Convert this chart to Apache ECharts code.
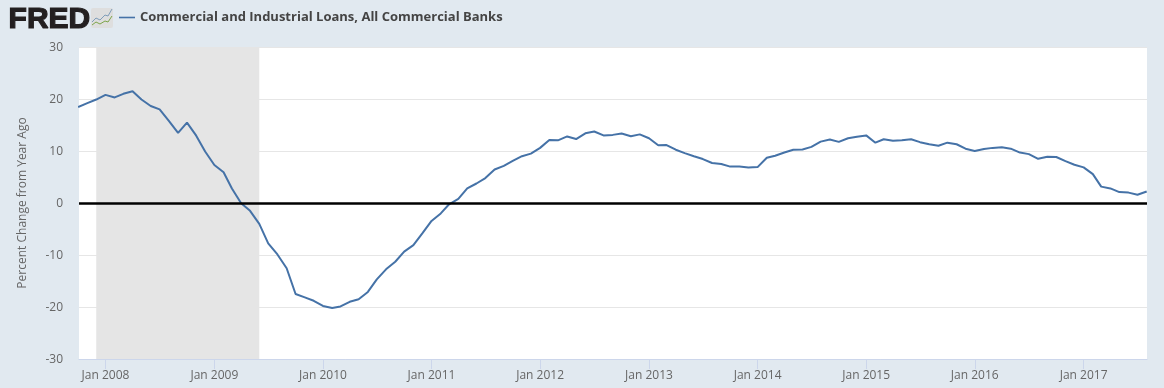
<!DOCTYPE html>
<html><head><meta charset="utf-8">
<script src="https://cdn.jsdelivr.net/npm/echarts@6/dist/echarts.min.js"></script>
<style>html,body{margin:0;padding:0;background:#e1e9f0}#c{width:1164px;height:388px}</style>
</head><body><div id="c"></div>
<script>
const seriesName = 'Commercial and Industrial Loans, All Commercial Banks';
const yAxisName = 'Percent Change from Year Ago';
const values2007 = [18.46,19.2,19.9];
const values2008 = [20.8,20.3,21.0,21.5,19.9,18.65,18.0,15.8,13.5,15.45,12.95,9.9];
const values2009 = [7.3,5.9,2.8,-0.05,-1.5,-4.0,-7.75,-9.9,-12.55,-17.5,-18.15,-18.8];
const values2010 = [-19.8,-20.2,-19.9,-19.0,-18.5,-17.1,-14.7,-12.75,-11.3,-9.35,-8.1,-5.85];
const values2011 = [-3.45,-2.0,-0.25,0.8,2.8,3.75,4.8,6.45,7.15,8.1,9.0,9.5];
const values2012 = [10.6,12.1,12.05,12.8,12.3,13.4,13.75,13.0,13.1,13.35,12.85,13.2];
const values2013 = [12.45,11.1,11.15,10.25,9.6,9.0,8.45,7.7,7.5,7.0,7.0,6.85];
const values2014 = [6.9,8.7,9.1,9.7,10.25,10.3,10.8,11.8,12.2,11.75,12.45,12.75];
const values2015 = [13.0,11.6,12.25,11.95,12.05,12.25,11.7,11.3,11.0,11.6,11.3,10.45];
const values2016 = [10.0,10.4,10.6,10.7,10.45,9.7,9.4,8.5,8.9,8.85,8.05,7.35];
const values2017 = [6.85,5.55,3.15,2.8,2.1,2.0,1.6,2.2];
const values = [].concat(values2007,values2008,values2009,values2010,values2011,values2012,values2013,values2014,values2015,values2016,values2017);
const dates = values.map((_, i) => Date.UTC(2007, 9 + i, 1));
const recession = [Date.UTC(2007, 11, 1), Date.UTC(2009, 5, 1)];
const xMin = Date.UTC(2007, 9, 4);
const xMax = Date.UTC(2017, 7, 2);

const chart = echarts.init(document.getElementById('c'), null, {renderer:'canvas', useUTC:true});
const font = '"Open Sans", sans-serif';
chart.setOption({
  animation:false,
  useUTC:true,
  backgroundColor:'#e1e9f0',
  textStyle:{fontFamily:font},
  legend:{
    left:114, top:6, itemWidth:16, itemHeight:10, itemGap:3,
    data:[{name:seriesName, icon:'path://M0,4.2H16V5.8H0Z'}],
    textStyle:{fontFamily:font, fontSize:13, fontWeight:'bold', color:'#444'}
  },
  grid:{left:79, right:17, top:47, bottom:29, show:true, backgroundColor:'#fff', borderWidth:0},
  xAxis:{
    type:'time', min:xMin, max:xMax,
    minInterval:365*86400000, maxInterval:366*86400000,
    axisLine:{show:true, onZero:false, lineStyle:{color:'#ccd6eb', width:1}},
    axisTick:{show:true, length:10, lineStyle:{color:'#ccd6eb'}},
    minorTick:{show:false},
    axisLabel:{color:'#666', fontSize:12, margin:11, fontFamily:font, showMinLabel:false, showMaxLabel:false, formatter:'Jan {yyyy}', hideOverlap:false},
    splitLine:{show:false}
  },
  yAxis:{
    type:'value', min:-30, max:30, interval:10,
    name:yAxisName, nameLocation:'middle', nameGap:50,
    nameTextStyle:{color:'#666', fontSize:12, fontFamily:font},
    axisLine:{show:false}, axisTick:{show:false},
    axisLabel:{color:'#666', fontSize:12, margin:16, fontFamily:font, verticalAlign:'top', lineHeight:14, padding:[-6,0,0,0]},
    splitLine:{lineStyle:{color:'#e6e6e6', width:1}}
  },
  series:[{
    name:seriesName, type:'line', data:dates.map((d,i)=>[d,values[i]]), showSymbol:false, symbol:'none',
    lineStyle:{color:'#4572a7', width:2}, itemStyle:{color:'#4572a7'},
    emphasis:{disabled:true}, silent:true, z:5,
    markArea:{silent:true, itemStyle:{color:'#e5e5e5'}, data:[[{xAxis:recession[0]},{xAxis:recession[1]}]]},
    markLine:{silent:true, symbol:'none', label:{show:false}, lineStyle:{color:'#000', width:2.5, type:'solid'}, data:[{yAxis:0}], z:6}
  }],
  graphic:[
    {type:'text', left:8, top:4, style:{text:'FRED', fontFamily:'"Liberation Sans", sans-serif', fontWeight:900, fontSize:30, fill:'#231f20', stroke:'#231f20', lineWidth:1.2}},
    {type:'rect', shape:{x:91,y:8,width:22,height:20,r:2}, style:{fill:'#dedede'}},
    {type:'polyline', shape:{points:[[92,22],[96,18],[100,20],[105,15],[108,16],[112,9]]}, style:{stroke:'#7f9db9', lineWidth:1, fill:'none'}},
    {type:'polyline', shape:{points:[[92,25],[96,22],[100,24],[105,21],[108,22],[112,16]]}, style:{stroke:'#7da54a', lineWidth:1, fill:'none'}}
  ]
});
</script></body></html>
